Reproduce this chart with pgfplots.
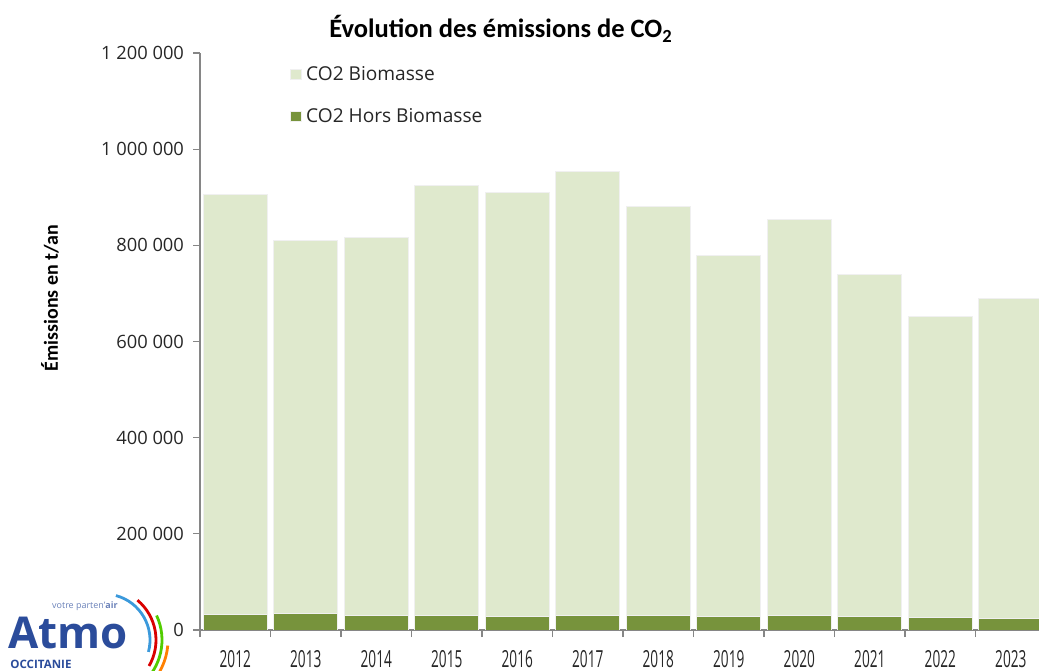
\documentclass[border=0pt]{standalone}
\usepackage{fontspec}
\setmainfont{Open Sans}
\newfontfamily\calibri{Carlito}
\usepackage{pgfplots}
\usepackage{pgfplotstable}
\pgfplotsset{compat=1.18}

\definecolor{bioL}{HTML}{DFE9CD}
\definecolor{bioD}{HTML}{77933C}
\definecolor{axgray}{HTML}{868686}
\definecolor{txt}{HTML}{262626}
\definecolor{atmoblue}{HTML}{2B4C9B}

% émissions en t/an : hors biomasse + biomasse
\pgfplotstableread{
x year hors bio
0  2012 32000 874000
1  2013 34000 777000
2  2014 30000 786000
3  2015 30000 894000
4  2016 29000 880000
5  2017 30000 924000
6  2018 30000 851000
7  2019 29000 750000
8  2020 30000 823000
9  2021 29000 711000
10 2022 26000 627000
11 2023 24000 666000
}\emis

\newcommand\yr[1]{\scalebox{0.58}[1]{#1}}

\begin{document}
\begin{tikzpicture}
\path[use as bounding box] (0bp,0bp) rectangle (519.5bp,335.5bp);
\begin{axis}[
    at={(100bp,20.5bp)}, anchor=south west,
    scale only axis,
    width=419.5bp, height=288.5bp,
    ybar stacked, bar width=0.91,
    xmin=-0.5, xmax=11.4,
    ymin=0, ymax=1200000,
    scaled y ticks=false,
    axis x line=bottom, axis y line=left,
    axis line style={-, axgray, line width=0.6bp},
    tick style={axgray, line width=0.6bp},
    tick align=outside,
    xtick={0,...,11},
    xticklabels={\yr{2012},\yr{2013},\yr{2014},\yr{2015},\yr{2016},\yr{2017},\yr{2018},\yr{2019},\yr{2020},\yr{2021},\yr{2022},\yr{2023}},
    major x tick style={draw=none},
    minor xtick={-0.5,0.5,...,10.5},
    minor tick length=3.5bp,
    ytick={0,200000,400000,600000,800000,1000000,1200000},
    yticklabels={0,200 000,400 000,600 000,800 000,1 000 000,1 200 000},
    major tick length=3.5bp,
    tick label style={font=\fontsize{9.2}{10}\selectfont, text=txt},
    xticklabel style={font=\fontsize{11.8}{13}\selectfont, yshift=-3bp},
    yticklabel style={xshift=-1bp},
    clip=true,
    reverse legend,
    legend style={draw=none, fill=none, at={(0.107,0.985)}, anchor=north west,
        font=\fontsize{9.6}{11}\selectfont, text=txt,
        row sep=8.5bp, inner sep=0pt,
        /tikz/every even column/.append style={column sep=1bp}},
    legend cell align=left,
    legend image code/.code={\fill[#1] (0bp,-2.7bp) rectangle (5.5bp,2.7bp);},
]
\addplot[fill=bioD, draw=black!6, line width=0.5bp] table[x=x, y=hors] {\emis};
\addlegendentry{CO2 Hors Biomasse}
\addplot[fill=bioL, draw=black!6, line width=0.5bp] table[x=x, y=bio] {\emis};
\addlegendentry{CO2 Biomasse}
\end{axis}

% titre et axe
\node[font=\calibri\bfseries\fontsize{13.3}{15}\selectfont, text=black] at (250.5bp,321bp) {Évolution des émissions de CO\textsubscript{2}};
\node[font=\calibri\bfseries\fontsize{10}{12}\selectfont, text=black, rotate=90] at (25bp,186.5bp) {Émissions en t/an};

% logo
\node[anchor=base west, inner sep=0, font=\bfseries\fontsize{22}{24}\selectfont, text=atmoblue] at (4bp,11.5bp) {Atmo};
\node[anchor=base west, inner sep=0, font=\bfseries\fontsize{5.8}{7}\selectfont, text=atmoblue] at (5bp,1.5bp) {OCCITANIE};
\node[anchor=base east, inner sep=0, font=\fontsize{4.5}{5}\selectfont, text=atmoblue!70] at (59bp,31.5bp) {votre parten'\textbf{air}};
\draw[cyan!70!blue!80, line width=1.4bp] (52bp,15.5bp) ++(75:23bp) arc (75:-15:23bp);
\draw[red!85!black, line width=1.4bp] (52bp,15.5bp) ++(50:26bp) arc (50:-30:26bp);
\draw[green!60!yellow!80!black, line width=1.4bp] (52bp,15.5bp) ++(25:29bp) arc (25:-50:29bp);
\draw[orange, line width=1.4bp] (52bp,15.5bp) ++(-5:32bp) arc (-5:-45:32bp);
\end{tikzpicture}
\end{document}
